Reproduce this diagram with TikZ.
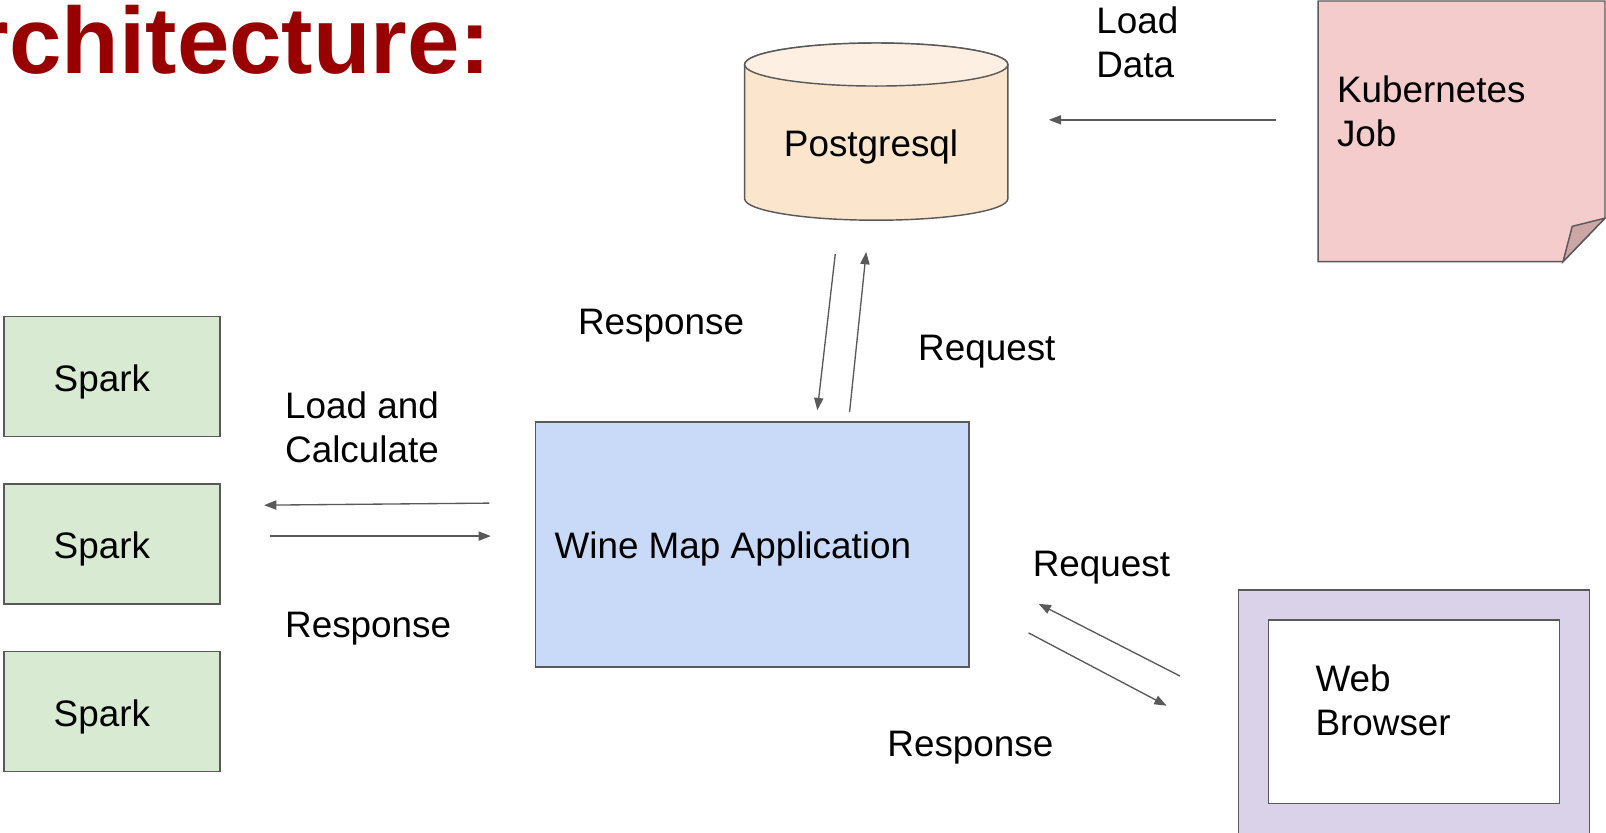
\documentclass[tikz,border=0pt]{standalone}
\usepackage{fontspec}
\setmainfont{Liberation Sans}
\usetikzlibrary{arrows.meta}
\definecolor{linegray}{HTML}{595959}
\definecolor{sparkfill}{HTML}{D9EAD3}
\definecolor{appfill}{HTML}{C9DAF8}
\definecolor{notefill}{HTML}{F4CCCC}
\definecolor{foldfill}{HTML}{CCA5A5}
\definecolor{cylbody}{HTML}{FCE5CD}
\definecolor{cyltop}{HTML}{FDEFE2}
\definecolor{browserfill}{HTML}{D9D2E9}
\definecolor{titlered}{HTML}{990000}
\begin{document}
\begin{tikzpicture}[x=0.5pt,y=-0.5pt,
  shapeline/.style={draw=linegray, line width=0.7pt},
  box/.style={shapeline, rectangle, inner sep=0pt},
  lbl/.style={anchor=base west, inner sep=0pt, font=\fontsize{18}{21.5}\selectfont, align=left},
  conn/.style={draw=linegray, line width=0.65pt, -{Triangle[length=6pt,width=4.5pt]}},
]
\useasboundingbox (0,0) rectangle (1568,813);
\clip (0,0) rectangle (1568,813);

% title
\node[anchor=base east, inner sep=0pt, text=titlered, font=\fontsize{46}{50}\selectfont\bfseries] (title) at (480,71.5) {Architecture:};

% Spark boxes
\node[box, fill=sparkfill, minimum width=105.5pt, minimum height=58.5pt] (s1) at (109.5,367.5) {};
\node[box, fill=sparkfill, minimum width=105.5pt, minimum height=58.5pt] (s2) at (109.5,531) {};
\node[box, fill=sparkfill, minimum width=105.5pt, minimum height=58.5pt] (s3) at (109.5,694.5) {};
\node[lbl] (s1t) at (52,382) {Spark};
\node[lbl] (s2t) at (52,545) {Spark};
\node[lbl] (s3t) at (52,709) {Spark};

% application
\node[box, fill=appfill, minimum width=211.5pt, minimum height=119.5pt] (app) at (734.5,531.5) {};
\node[lbl] (appt) at (541,545) {Wine Map Application};

% postgres cylinder
\path[shapeline, fill=cylbody] (727,63) -- (727,194)
  arc[start angle=180, end angle=0, x radius=128.5, y radius=21] -- (984,63)
  arc[start angle=0, end angle=-180, x radius=128.5, y radius=21] -- cycle;
\draw[shapeline, fill=cyltop] (855.5,63) ellipse[x radius=128.5, y radius=21];
\node[lbl] (pgt) at (765,153) {Postgresql};

% kubernetes note
\path[shapeline, fill=notefill] (1287,1) -- (1567,1) -- (1567,213) -- (1526,255.5) -- (1287,255.5) -- cycle;
\path[shapeline, fill=foldfill] (1567,213) -- (1535,221) -- (1526,255.5) -- cycle;
\node[lbl] (kubet) at (1305,143) {Kubernetes\\Job};

% web browser
\node[box, fill=browserfill, minimum width=171.5pt, minimum height=137pt] (bout) at (1380.5,713) {};
\node[box, fill=white, minimum width=142pt, minimum height=89.5pt] (bin) at (1380.7,695) {};
\node[lbl] (bt) at (1284,718) {Web\\Browser};

% arrow end points
\coordinate (kA) at (1246,117);
\coordinate (kB) at (1024,117);
\coordinate (pA) at (815.5,248);
\coordinate (pB) at (798,400.5);
\coordinate (qA) at (829.5,402);
\coordinate (qB) at (845.7,246);
\coordinate (sA) at (477.8,491.2);
\coordinate (sB) at (257.8,493.2);
\coordinate (tA) at (263.7,523.4);
\coordinate (tB) at (479.2,523.4);
\coordinate (wA) at (1152,660);
\coordinate (wB) at (1014,589.5);
\coordinate (vA) at (1004.2,617.9);
\coordinate (vB) at (1139,689);

\draw[conn] (kA) -- (kB);
\draw[conn] (pA) -- (pB);
\draw[conn] (qA) -- (qB);
\draw[conn] (sA) -- (sB);
\draw[conn] (tA) -- (tB);
\draw[conn] (wA) -- (wB);
\draw[conn] (vA) -- (vB);

% labels
\node[lbl] (l1) at (1070,76) {Load\\Data};
\node[lbl] (l2) at (564,327) {Response};
\node[lbl] (l3) at (896,352) {Request};
\node[lbl] (l4) at (278,452) {Load and\\Calculate};
\node[lbl] (l5) at (278,622) {Response};
\node[lbl] (l6) at (1008,563) {Request};
\node[lbl] (l7) at (866,739) {Response};
\end{tikzpicture}
\end{document}
